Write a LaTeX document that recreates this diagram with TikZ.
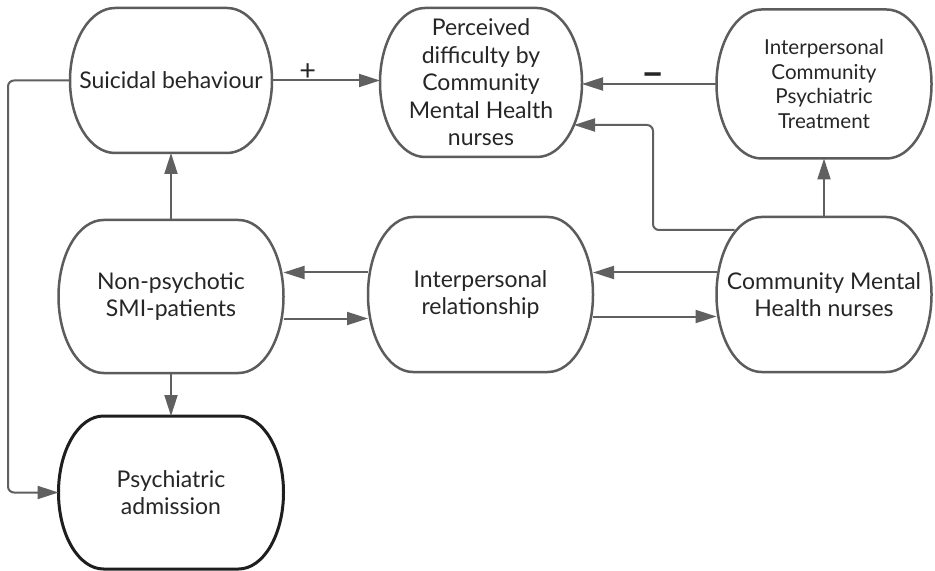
\documentclass[tikz,border=0pt]{standalone}
\usepackage{fontspec}
\setmainfont{Lato}
\usetikzlibrary{arrows.meta,calc}
\definecolor{rand}{RGB}{92,92,92}
\definecolor{pfeilgrau}{RGB}{96,96,96}
\definecolor{schrift}{RGB}{38,38,38}
\definecolor{dunkelrand}{RGB}{30,30,30}
% outline with half-elliptic sides round a node
\newcommand{\pillbox}[2]{%
  \draw[#2] let \p1=(#1.north west), \p2=(#1.south east), \n1={(\y1-\y2)/2} in
    (\x1+22.5pt,\y1) -- (\x2-22.5pt,\y1)
    arc[start angle=90,end angle=-90,x radius=22.5pt,y radius=\n1]
    -- (\x1+22.5pt,\y2)
    arc[start angle=270,end angle=90,x radius=22.5pt,y radius=\n1] -- cycle;}

\begin{document}
\begin{tikzpicture}[x=0.5pt,y=0.5pt,
    box/.style={align=center, inner sep=0pt, outer sep=0pt, text=schrift,
      font=\fontsize{11.5}{13.75}\selectfont},
    boxline/.style={draw=rand, line width=1.25pt},
    link/.style={pfeilgrau, line width=1pt, -{Triangle[length=10.5pt,width=6.5pt]}}]

    \fill[white] (0,0) rectangle (935,-571);
    \useasboundingbox (0,0) rectangle (935,-571);

    % upper row
    \node[box, minimum width=101pt, minimum height=72.5pt] (suicide) at (171,-80.5) {Suicidal behaviour};
    \node[box, minimum width=101pt, minimum height=74.5pt] (perceived) at (481,-82.5)
        {Perceived\\difficulty by\\Community\\Mental Health\\nurses};
    \node[box, minimum width=107.5pt, minimum height=74.5pt, font=\fontsize{10.3}{12.2}\selectfont] (treatment) at (824,-84)
        {Interpersonal\\Community\\Psychiatric\\Treatment};

    % middle row
    \node[box, minimum width=112.5pt, minimum height=76.5pt] (patients) at (171,-296.5) {Non-psychotic\\SMI-patients};
    \node[box, minimum width=112.5pt, minimum height=77.5pt] (relation) at (480.5,-294.5) {Interpersonal\\relationship};
    \node[box, minimum width=107.5pt, minimum height=77.5pt] (nurses) at (824,-294.5) {Community Mental\\Health nurses};

    % lower row
    \node[box, minimum width=112.5pt, minimum height=76.5pt] (admission) at (171,-492.5) {Psychiatric\\admission};

    \foreach \nd in {suicide,perceived,treatment,patients,relation,nurses}
        \pillbox{\nd}{boxline};
    \pillbox{admission}{draw=dunkelrand, line width=1.5pt}

    \draw[link] (suicide.east) -- (suicide.east -| perceived.west)
        node[pos=0.33, above=-4pt, text=schrift, font=\Large] (plus) {+};
    \draw[link] (treatment.west) -- (treatment.west -| perceived.east)
        node[pos=0.47, above=-5pt, text=schrift, font=\fontsize{20}{20}\selectfont\bfseries] (minus) {–};
    \draw[link, rounded corners=3pt] ($(nurses.north west)+(18,-13)$) -| ($(perceived.south east)+(71,32)$)
        -- ($(perceived.south east)+(-8,32)$);
    \draw[link] (nurses.north) -- (treatment.south);

    \draw[link] (patients.north) -- (suicide.south);
    \draw[link] (patients.south) -- (admission.north);
    \draw[link, rounded corners=3pt] (suicide.west) -- ++(-62,0) |- (admission.west);

    \draw[link] ([yshift=11pt]relation.west) -- ([yshift=11pt]relation.west -| patients.east);
    \draw[link] ([yshift=-11pt]patients.east) -- ([yshift=-11pt]patients.east -| relation.west);
    \draw[link] ([yshift=11pt]nurses.west) -- ([yshift=11pt]nurses.west -| relation.east);
    \draw[link] ([yshift=-11pt]relation.east) -- ([yshift=-11pt]relation.east -| nurses.west);

\end{tikzpicture}
\end{document}
